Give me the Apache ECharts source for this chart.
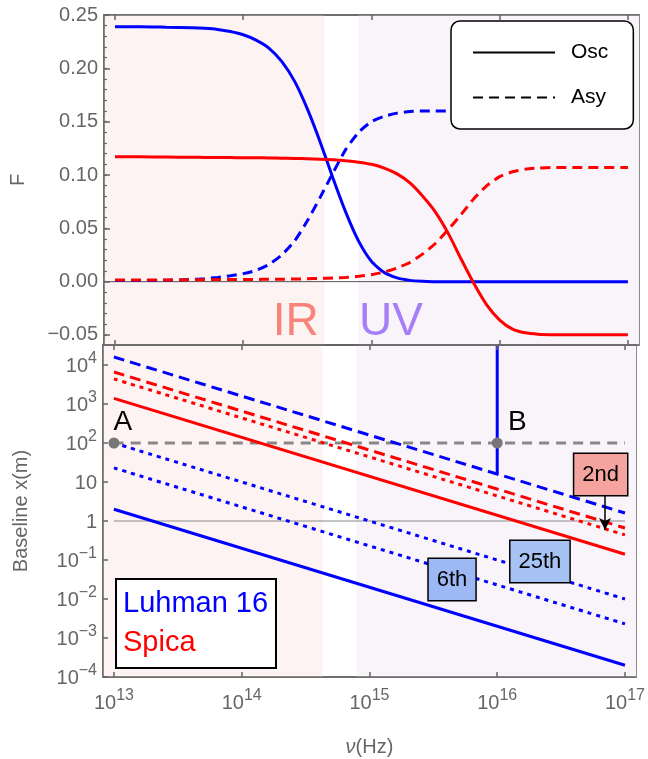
<!DOCTYPE html>
<html>
<head>
<meta charset="utf-8">
<script src="https://cdn.jsdelivr.net/npm/echarts@6/dist/echarts.min.js"></script>
<style>
  html, body { margin: 0; padding: 0; background: #fff; }
  #chart { width: 648px; height: 759px; }
</style>
</head>
<body>
<div id="chart"></div>
<script>
const logNu = [13.0, 13.2, 13.4, 13.6, 13.7, 13.8, 13.9, 14.0, 14.1, 14.2, 14.3, 14.4, 14.5, 14.6, 14.7, 14.8, 14.9, 15.0, 15.1, 15.2, 15.3, 15.4, 15.5, 15.6, 15.7, 15.8, 15.9, 16.0, 16.1, 16.2, 16.3, 16.4, 16.6, 16.8, 17.0]
const oscLuhman = [0.239, 0.239, 0.2385, 0.238, 0.2375, 0.2365, 0.2345, 0.2315, 0.2265, 0.219, 0.2065, 0.188, 0.162, 0.131, 0.097, 0.065, 0.038, 0.019, 0.0085, 0.0035, 0.0012, 0.0004, 0, 0, 0, 0, 0, 0, 0, 0, 0, 0, 0, 0, 0]
const asyLuhman = [0.001, 0.001, 0.0013, 0.002, 0.0028, 0.004, 0.0055, 0.0075, 0.0105, 0.016, 0.025, 0.038, 0.057, 0.079, 0.102, 0.124, 0.140, 0.150, 0.155, 0.158, 0.1595, 0.160, 0.160, 0.160, 0.160, 0.160, 0.160, 0.160, 0.160, 0.160, 0.160, 0.160, 0.160, 0.160, 0.160]
const oscSpica = [0.117, 0.117, 0.1168, 0.1166, 0.1165, 0.1164, 0.1163, 0.1162, 0.1161, 0.116, 0.1158, 0.1155, 0.1152, 0.1148, 0.1142, 0.1133, 0.112, 0.110, 0.1065, 0.101, 0.0925, 0.080, 0.065, 0.045, 0.021, -0.002, -0.022, -0.036, -0.0445, -0.048, -0.0493, -0.0497, -0.0498, -0.0498, -0.0498]
const asySpica = [0.0015, 0.0015, 0.0016, 0.0017, 0.0018, 0.0019, 0.002, 0.002, 0.0021, 0.0022, 0.0023, 0.0025, 0.0027, 0.003, 0.0034, 0.004, 0.005, 0.0065, 0.009, 0.0128, 0.018, 0.026, 0.036, 0.049, 0.063, 0.078, 0.090, 0.0985, 0.103, 0.1055, 0.1065, 0.107, 0.107, 0.107, 0.107]

// baseline lines (m), end points at 1e13 and 1e17 Hz
const baseNu = [1e13, 1e17]
const luhmanSolid = [2.0, 2.0e-4]
const luhman6th = [23, 2.3e-3]
const luhman25th = [100, 1.0e-2]
const luhmanDashed = [1.6e4, 1.6]
const spicaSolid = [1400, 0.14]
const spicaDotted = [4400, 0.44]
const spicaDashed = [6600, 0.66]
const cutNu = [1e16, 1e16]
const cutX = [16, 3.2e4]
const refX = 100

const pointNames = ['A', 'B']
const pointNu = [1e13, 1e16]
const pointX = [100, 100]

const noteNames = ['2nd', '25th', '6th']
const noteNu = [6.45e16, 2.16e16, 4.43e15]
const noteX = [15.6, 0.0916, 0.0316]
const noteColors = ['#f5a39e', '#a6c3f3', '#9cb9f6']
const arrowNu = [6.98e16, 6.98e16]
const arrowX = [4.64, 0.59]

const bandNames = ['IR', 'UV']
const bandColors = ['#f8837a', '#a67ff7']
const bandEdges = [4.3e14, 7.9e14]
const bandLabelNu = [2.57e14, 1.42e15]
const bandLabelF = [-0.0384, -0.0384]

// ticks
const freqTicks = [1e13, 1e14, 1e15, 1e16, 1e17]
const fTicks = [-0.05, 0, 0.05, 0.1, 0.15, 0.2, 0.25]
const fMinorTicks = []
for (let i = -5; i <= 25; i++) fMinorTicks.push(i / 100)
const baseTicks = [1e-4, 1e-3, 1e-2, 1e-1, 1, 10, 100, 1e3, 1e4]

const xMin = 8.21e12
const xMax = 1.22e17
const FONT = 'Liberation Sans, Arial, sans-serif'
const AXIS = '#666'
const BLUE = '#0000ff'
const RED = '#ff0000'

const pairs = ys => logNu.map((e, i) => [Math.pow(10, e), ys[i]])
const zip = (xs, ys) => xs.map((x, i) => [x, ys[i]])

const rich = {
  b: { fontSize: 20, color: AXIS, fontFamily: FONT, lineHeight: 22, verticalAlign: 'bottom' },
  s: { fontSize: 16, color: AXIS, fontFamily: FONT, lineHeight: 22, verticalAlign: 'bottom', padding: [0, 0, 9, 0] }
}
function powLabel(v) {
  const e = Math.round(Math.log10(v))
  if (e === 0) return '{b|1}'
  if (e === 1) return '{b|10}'
  return '{b|10}{s|' + (e < 0 ? '\u2212' + (-e) : e) + '}'
}

const frameLine = { show: true, onZero: false, lineStyle: { color: AXIS, width: 1.5 } }
function freqAxis(gridIndex, position, withLabels) {
  return {
    type: 'log', gridIndex, position, min: xMin, max: xMax, z: 10,
    axisLine: frameLine,
    axisTick: { show: true, inside: true, length: 5, customValues: freqTicks, lineStyle: { color: AXIS, width: 1.5 } },
    axisLabel: withLabels
      ? { show: true, customValues: freqTicks, formatter: powLabel, rich, margin: 14 }
      : { show: false },
    splitLine: { show: false }
  }
}

function lineSeries(name, data, color, type, xi, yi, width) {
  return {
    name, type: 'line', data, xAxisIndex: xi, yAxisIndex: yi,
    symbol: 'none', smooth: 0.2, z: 3,
    lineStyle: { color, width: width || 3, type }
  }
}

const bands = [
  [{ xAxis: xMin, itemStyle: { color: '#fef3f3' } }, { xAxis: bandEdges[0] }],
  [{ xAxis: bandEdges[1], itemStyle: { color: '#f9f4fa' } }, { xAxis: xMax }]
]

const chart = echarts.init(document.getElementById('chart'))
chart.setOption({
  animation: false,
  backgroundColor: '#fff',
  textStyle: { fontFamily: FONT },
  grid: [
    { left: 103, right: 9, top: 15, height: 330, show: true, borderColor: AXIS, borderWidth: 1.5, backgroundColor: 'transparent' },
    { left: 103, right: 9, top: 345, height: 332, show: true, borderColor: AXIS, borderWidth: 1.5, backgroundColor: 'transparent' }
  ],
  xAxis: [
    freqAxis(0, 'bottom', false),
    freqAxis(0, 'top', false),
    Object.assign(freqAxis(1, 'bottom', true), {
      name: '{i|\u03bd}(Hz)', nameLocation: 'middle', nameGap: 60,
      nameTextStyle: { fontSize: 20, color: AXIS, fontFamily: FONT, rich: { i: { fontSize: 20, color: AXIS, fontStyle: 'italic', fontFamily: FONT } } }
    }),
    freqAxis(1, 'top', false)
  ],
  yAxis: [
    {
      type: 'value', gridIndex: 0, min: -0.0594, max: 0.25, z: 10,
      name: 'F', nameLocation: 'middle', nameGap: 76,
      nameTextStyle: { fontSize: 20, color: AXIS, fontFamily: FONT },
      axisLine: frameLine,
      axisTick: { show: true, inside: true, length: 6, customValues: fTicks, lineStyle: { color: AXIS, width: 1.5 } },
      axisLabel: {
        customValues: fTicks, margin: 6, fontSize: 20, color: AXIS, fontFamily: FONT,
        formatter: v => (v < 0 ? '\u2212' : '') + Math.abs(v).toFixed(2)
      },
      splitLine: { show: false }
    },
    {
      type: 'value', gridIndex: 0, min: -0.0594, max: 0.25, position: 'left', z: 10,
      axisLine: { show: false, onZero: false },
      axisTick: { show: true, inside: true, length: 3, customValues: fMinorTicks, lineStyle: { color: AXIS, width: 1.2 } },
      axisLabel: { show: false },
      splitLine: { show: false }
    },
    {
      type: 'log', gridIndex: 1, min: 1e-4, max: 3.26e4, z: 10,
      name: 'Baseline x(m)', nameLocation: 'middle', nameGap: 72,
      nameTextStyle: { fontSize: 20, color: AXIS, fontFamily: FONT },
      axisLine: frameLine,
      axisTick: { show: true, inside: true, length: 5, customValues: baseTicks, lineStyle: { color: AXIS, width: 1.5 } },
      axisLabel: { customValues: baseTicks, formatter: powLabel, rich, margin: 6 },
      splitLine: { show: false }
    }
  ],
  legend: {
    data: ['Osc', 'Asy'],
    orient: 'vertical', left: 451, top: 21,
    padding: [21, 25, 21, 21],
    itemWidth: 82, itemHeight: 21, itemGap: 24,
    backgroundColor: '#fff', borderColor: '#000', borderWidth: 1.5, borderRadius: 9,
    selectedMode: false,
    itemStyle: { color: 'transparent', borderWidth: 0, opacity: 0 },
    textStyle: { fontSize: 21, color: '#000', fontFamily: FONT, padding: [0, 0, 0, 11] }
  },
  graphic: [
    { type: 'rect', z: 100, shape: { x: 116, y: 579, width: 160, height: 89 }, style: { fill: '#fff', stroke: '#000', lineWidth: 2 } },
    { type: 'text', z: 101, x: 123, y: 604, style: { text: 'Luhman 16', fill: BLUE, fontSize: 29, fontFamily: FONT, verticalAlign: 'middle' } },
    { type: 'text', z: 101, x: 123, y: 643, style: { text: 'Spica', fill: RED, fontSize: 29, fontFamily: FONT, verticalAlign: 'middle' } }
  ],
  series: [
    // top panel: shaded bands and zero line
    {
      type: 'line', xAxisIndex: 0, yAxisIndex: 0, symbol: 'none', z: 1,
      data: [[xMin, 0], [1e17, 0]],
      lineStyle: { color: '#555', width: 1 },
      markArea: { silent: true, data: bands }
    },
    lineSeries('LuhmanOsc', pairs(oscLuhman), BLUE, 'solid', 0, 0),
    lineSeries('LuhmanAsy', pairs(asyLuhman), BLUE, [10, 6], 0, 0),
    lineSeries('SpicaOsc', pairs(oscSpica), RED, 'solid', 0, 0),
    lineSeries('SpicaAsy', pairs(asySpica), RED, [10, 6], 0, 0),
    { name: 'Osc', type: 'line', xAxisIndex: 0, yAxisIndex: 0, data: [], symbol: 'none', lineStyle: { color: '#000', width: 3.8 }, itemStyle: { color: 'transparent' } },
    { name: 'Asy', type: 'line', xAxisIndex: 0, yAxisIndex: 0, data: [], symbol: 'none', lineStyle: { color: '#000', width: 3.8, type: [10, 6] }, itemStyle: { color: 'transparent' } },
    {
      type: 'scatter', xAxisIndex: 0, yAxisIndex: 0, symbolSize: 0, z: 20, zlevel: 1, silent: true,
      itemStyle: { color: 'transparent', opacity: 1 },
      data: bandNames.map((n, i) => ({
        name: n, value: [bandLabelNu[i], bandLabelF[i]],
        label: { color: bandColors[i] }
      })),
      label: { show: true, position: 'inside', formatter: '{b}', fontSize: 46, fontFamily: FONT, textBorderWidth: 0 }
    },
    // bottom panel: shaded bands and reference lines
    {
      type: 'line', xAxisIndex: 2, yAxisIndex: 2, symbol: 'none', z: 1,
      data: zip(baseNu, [1, 1]),
      lineStyle: { color: '#888', width: 1 },
      markArea: { silent: true, data: bands }
    },
    lineSeries('ref', zip(baseNu, [refX, refX]), '#888', [10, 7], 2, 2),
    lineSeries('LuhmanSolid', zip(baseNu, luhmanSolid), BLUE, 'solid', 2, 2),
    lineSeries('Luhman6th', zip(baseNu, luhman6th), BLUE, [4, 5], 2, 2),
    lineSeries('Luhman25th', zip(baseNu, luhman25th), BLUE, [4, 5], 2, 2),
    lineSeries('LuhmanDashed', zip(baseNu, luhmanDashed), BLUE, [11, 6], 2, 2),
    lineSeries('SpicaSolid', zip(baseNu, spicaSolid), RED, 'solid', 2, 2),
    lineSeries('SpicaDotted', zip(baseNu, spicaDotted), RED, [4, 5], 2, 2),
    lineSeries('SpicaDashed', zip(baseNu, spicaDashed), RED, [11, 6], 2, 2),
    lineSeries('cut', zip(cutNu, cutX), BLUE, 'solid', 2, 2),
    {
      type: 'scatter', xAxisIndex: 2, yAxisIndex: 2, symbolSize: 11, z: 5,
      itemStyle: { color: '#777', opacity: 1 },
      data: pointNames.map((n, i) => ({ name: n, value: [pointNu[i], pointX[i]] })),
      label: {
        show: true, position: 'inside', formatter: '{b}', fontSize: 28, color: '#000', fontFamily: FONT
      },
      labelLayout: p => ({ dx: p.dataIndex === 0 ? 9 : 20, dy: -21 })
    },
    {
      type: 'scatter', xAxisIndex: 2, yAxisIndex: 2, symbolSize: 0, z: 20, zlevel: 1,
      itemStyle: { color: 'transparent', opacity: 1 },
      data: noteNames.map((n, i) => ({
        name: n, value: [noteNu[i], noteX[i]],
        label: { backgroundColor: noteColors[i] }
      })),
      label: {
        show: true, position: 'inside', formatter: '{b}', fontSize: 22, lineHeight: 25, color: '#000', fontFamily: FONT,
        borderColor: '#000', borderWidth: 1.5, padding: [8, 8]
      },
      markLine: {
        silent: true, symbol: ['none', 'arrow'], symbolSize: [9, 12],
        label: { show: false },
        lineStyle: { color: '#000', width: 1.5, type: 'solid' },
        data: [[{ coord: [arrowNu[0], arrowX[0]] }, { coord: [arrowNu[1], arrowX[1]] }]]
      }
    }
  ]
})
</script>
</body>
</html>
